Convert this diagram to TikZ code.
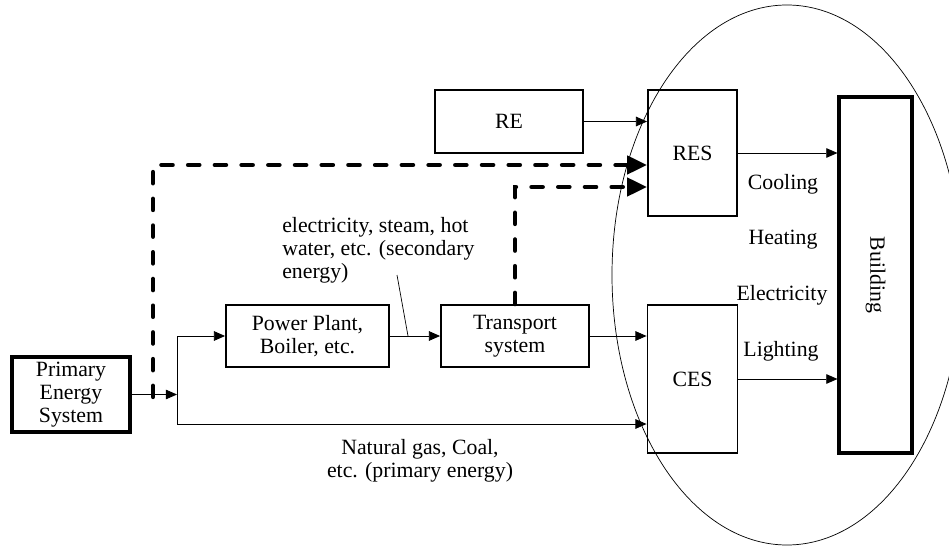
\documentclass[tikz,border=0pt]{standalone}
\usepackage{fontspec}
\setmainfont{Liberation Serif}
\usetikzlibrary{arrows.meta, positioning, calc}

\begin{document}
\begin{tikzpicture}[
    font=\fontsize{15.5}{16.5}\selectfont,
    box/.style={draw=black, line width=1.3pt, inner sep=0pt, align=center},
    bigbox/.style={box, line width=2.2pt},
    flow/.style={->, >={Triangle[length=0.28cm, width=0.24cm]}, line width=0.6pt},
    supply/.style={->, >={Triangle[length=0.5cm, width=0.45cm]}, line width=3.1pt, dash pattern=on 8pt off 11pt, line cap=round},
  ]
  \useasboundingbox (0, 0) rectangle (23.725, 13.675);
  \clip (0, 0) rectangle (23.725, 13.675);

  % building side
  \draw[line width=0.5pt] (19.675, 6.8) ellipse [x radius=4.375, y radius=6.75];

  \node[bigbox, minimum width=2.95cm, minimum height=1.875cm] (pes) at (1.775, 3.8125) {Primary\\Energy\\System};
  \node[box, minimum width=4.075cm, minimum height=1.55cm] (pp) at (7.6875, 5.275) {Power Plant,\\Boiler, etc.};
  \node[box, minimum width=3.7cm, minimum height=1.55cm] (ts) at (12.875, 5.275) {Transport\\system};
  \node[box, minimum width=3.7cm, minimum height=1.575cm] (re) at (12.725, 10.6375) {RE};
  \node[box, minimum width=2.225cm, minimum height=3.15cm] (res) at (17.3125, 9.85) {RES};
  \node[box, minimum width=2.25cm, minimum height=3.7cm] (ces) at (17.3125, 4.2) {CES};
  \node[bigbox, minimum width=1.825cm, minimum height=8.9cm] (bld) at (21.8875, 6.8) {};
  \node[rotate=-90] (bldtext) at (bld.center) {Building};

  % uses
  \node (cool) at (19.575, 9.075) {Cooling};
  \node (heat) at (19.575, 7.675) {Heating};
  \node (elec) at (19.55, 6.3) {Electricity};
  \node (light) at (19.525, 4.9) {Lighting};

  \node[align=left, anchor=west, inner sep=0pt] (sec) at (7.05, 7.425) {electricity, steam, hot\\water, etc. (secondary\\energy)};
  \node[align=center] (prim) at (10.5, 2.1625) {Natural gas, Coal,\\etc. (primary energy)};

  \coordinate (jt) at (4.425, 5.275);
  \coordinate (jb) at (4.425, 3.075);
  \coordinate (d1) at (3.825, 3.75);
  \coordinate (ptr) at (9.925, 6.8);
  \coordinate (tick) at (10.2, 5.275);

  \draw[flow] (pes.east) -- (pes.east -| jt);
  \draw[line width=0.6pt] (jt) -- (jb);
  \draw[flow] (jt) -- (pp.west);
  \draw[flow] (jb) -- (jb -| ces.west);
  \draw[flow] (pp.east) -- (ts.west);
  \draw[flow] (ts.east) -- (ts.east -| ces.west);
  \draw[flow] (re.east) -- (re.east -| res.west);
  \draw[flow] (res.east) -- (res.east -| bld.west);
  \draw[flow] (ces.east) -- (ces.east -| bld.west);
  \draw[line width=0.5pt] (ptr) -- (tick);

  \draw[supply] (d1) |- ([yshift=-0.3cm]res.west);
  \draw[supply] (ts.north) |- ([yshift=-0.85cm]res.west);
\end{tikzpicture}
\end{document}
